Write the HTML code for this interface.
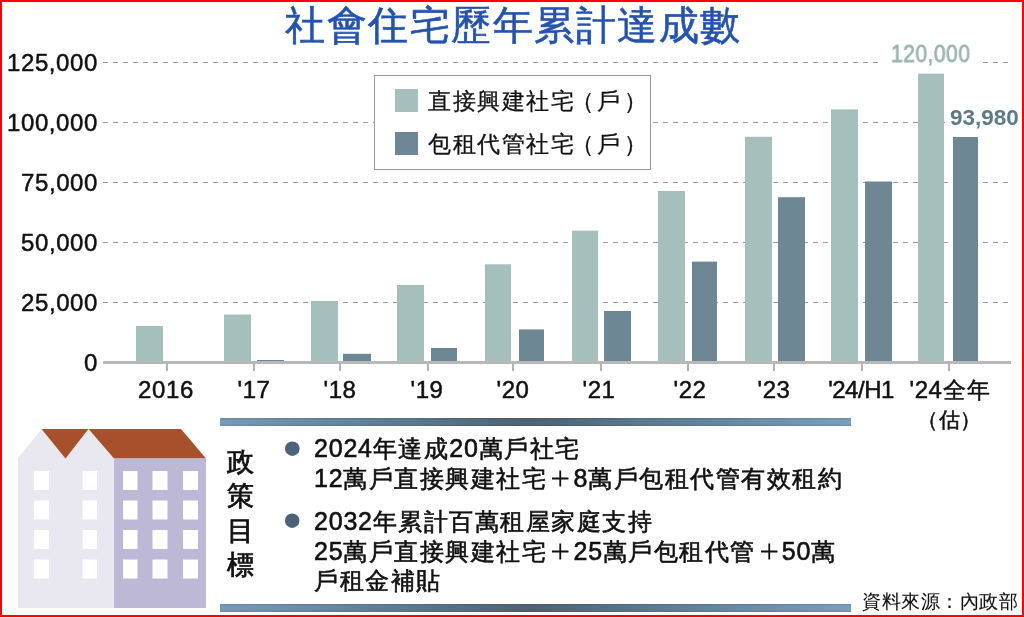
<!DOCTYPE html>
<html lang="zh-Hant-TW">
<head>
<meta charset="utf-8">
<style>
html,body{margin:0;padding:0;background:#fff;}
body{width:1024px;height:617px;position:relative;overflow:hidden;font-family:"Liberation Sans",sans-serif;color:#111;}
.s{-webkit-text-stroke:0.5px currentColor;}
.frame{position:absolute;left:0;top:0;width:1020px;height:613px;border:2px solid #f00;}
.t{position:absolute;white-space:nowrap;line-height:1;}
.yl,.xl,.lg,.pl,.t{will-change:transform;}
#title{left:285px;top:5.5px;font-size:39.5px;color:#2453AE;letter-spacing:1.5px;-webkit-text-stroke:0.6px #2453AE;}
.yl{position:absolute;right:926px;font-size:24px;line-height:24px;letter-spacing:0.6px;white-space:nowrap;-webkit-text-stroke:0.5px #111;}
.xl{position:absolute;font-size:24px;line-height:24px;letter-spacing:0.6px;white-space:nowrap;text-align:center;width:120px;-webkit-text-stroke:0.5px #111;}
.lg{position:absolute;left:428px;font-size:23px;line-height:23px;letter-spacing:1.5px;white-space:nowrap;-webkit-text-stroke:0.3px #111;}
.pl{position:absolute;left:314px;font-size:24px;line-height:24px;letter-spacing:1.5px;white-space:nowrap;-webkit-text-stroke:0.6px #111;}
.pl .d{letter-spacing:0.8px;font-size:25px;}
.plus{vertical-align:-1px;margin-right:1px;}
</style>
</head>
<body>
<svg width="1024" height="617" style="position:absolute;left:0;top:0">
  <g stroke="#999" stroke-width="1" stroke-dasharray="5 5">
    <line x1="103" y1="62.5" x2="1010" y2="62.5"/>
    <line x1="103" y1="122.5" x2="1010" y2="122.5"/>
    <line x1="103" y1="182.5" x2="1010" y2="182.5"/>
    <line x1="103" y1="242.5" x2="1010" y2="242.5"/>
    <line x1="103" y1="302.5" x2="1010" y2="302.5"/>
  </g>
  <rect x="103" y="361" width="908" height="3" fill="#b8b8b8"/>
  <g fill="#b4b4b4">
    <rect x="166" y="363" width="2" height="8"/>
    <rect x="253" y="363" width="2" height="8"/>
    <rect x="339" y="363" width="2" height="8"/>
    <rect x="427" y="363" width="2" height="8"/>
    <rect x="512" y="363" width="2" height="8"/>
    <rect x="600" y="363" width="2" height="8"/>
    <rect x="687" y="363" width="2" height="8"/>
    <rect x="773" y="363" width="2" height="8"/>
    <rect x="861" y="363" width="2" height="8"/>
    <rect x="948" y="363" width="2" height="8"/>
  </g>
  <g fill="#A5BFBC">
    <rect x="136" y="326" width="27" height="35"/>
    <rect x="224" y="314.5" width="27" height="46.5"/>
    <rect x="311" y="301" width="27" height="60"/>
    <rect x="397" y="285" width="27" height="76"/>
    <rect x="485" y="264.3" width="26" height="96.7"/>
    <rect x="572" y="230.7" width="26" height="130.3"/>
    <rect x="658" y="191" width="27" height="170"/>
    <rect x="745" y="136.8" width="27" height="224.2"/>
    <rect x="831" y="109.4" width="27" height="251.6"/>
    <rect x="918" y="73.7" width="26" height="287.3"/>
  </g>
  <g fill="#6D8894">
    <rect x="257" y="360" width="27" height="1"/>
    <rect x="343" y="353.8" width="28" height="7.2"/>
    <rect x="431" y="348" width="26" height="13"/>
    <rect x="519" y="329.4" width="25" height="31.6"/>
    <rect x="604" y="311" width="27" height="50"/>
    <rect x="692" y="261.6" width="25" height="99.4"/>
    <rect x="778" y="197.2" width="27" height="163.8"/>
    <rect x="865" y="181.5" width="27" height="179.5"/>
    <rect x="953" y="137" width="25" height="224"/>
  </g>
  <!-- legend -->
  <rect x="374.5" y="75.5" width="276" height="94" fill="#fff" stroke="#9a9a9a" stroke-width="1"/>
  <rect x="395" y="89" width="23" height="23" fill="#A5BFBC"/>
  <rect x="395" y="132" width="23" height="23" fill="#6D8894"/>
  <!-- label backgrounds -->
  <rect x="880" y="44" width="102" height="22" fill="#fff"/>
  <rect x="945" y="108" width="76" height="22" fill="#fff"/>
  <!-- gradient bars -->
  <defs>
    <linearGradient id="gb" x1="0" x2="1" y1="0" y2="0">
      <stop offset="0" stop-color="#769BBA"/>
      <stop offset="0.49" stop-color="#4D6274"/>
      <stop offset="1" stop-color="#78A0BF"/>
    </linearGradient>
    <linearGradient id="gv" x1="0" x2="0" y1="0" y2="1">
      <stop offset="0" stop-color="#000" stop-opacity="0.10"/>
      <stop offset="0.3" stop-color="#000" stop-opacity="0"/>
      <stop offset="0.7" stop-color="#000" stop-opacity="0"/>
      <stop offset="1" stop-color="#000" stop-opacity="0.10"/>
    </linearGradient>
  </defs>
  <rect x="220" y="418" width="631" height="8" fill="url(#gb)"/>
  <rect x="220" y="604" width="631" height="8" fill="url(#gb)"/>
  <rect x="220" y="418" width="631" height="8" fill="url(#gv)"/>
  <rect x="220" y="604" width="631" height="8" fill="url(#gv)"/>
  <!-- building -->
  <polygon points="18,458 41.5,429.5 65.5,458.5 88.5,429.5 114,458.5 114,608 18,608" fill="#E9E7F0"/>
  <polygon points="41.5,429 88.5,429 65.5,458.5" fill="#A84F2C"/>
  <polygon points="88.5,429 181,429 206,458.5 114,458.5" fill="#A84F2C"/>
  <rect x="114" y="458.5" width="92" height="149.5" fill="#BDB8D5"/>
  <g fill="#fff">
    <rect x="34" y="471" width="15" height="19"/><rect x="82.5" y="471" width="14.5" height="19"/>
    <rect x="34" y="500.5" width="15" height="19"/><rect x="82.5" y="500.5" width="14.5" height="19"/>
    <rect x="34" y="530" width="15" height="19"/><rect x="82.5" y="530" width="14.5" height="19"/>
    <rect x="34" y="559.5" width="15" height="19"/><rect x="82.5" y="559.5" width="14.5" height="19"/>
    <rect x="123" y="471" width="14.5" height="19"/><rect x="152.5" y="471" width="15" height="19"/><rect x="183" y="471" width="15" height="19"/>
    <rect x="123" y="500.5" width="14.5" height="19"/><rect x="152.5" y="500.5" width="15" height="19"/><rect x="183" y="500.5" width="15" height="19"/>
    <rect x="123" y="530" width="14.5" height="19"/><rect x="152.5" y="530" width="15" height="19"/><rect x="183" y="530" width="15" height="19"/>
    <rect x="123" y="559.5" width="14.5" height="19"/><rect x="152.5" y="559.5" width="15" height="19"/><rect x="183" y="559.5" width="15" height="19"/>
  </g>
  <circle cx="292.3" cy="448.7" r="7.3" fill="#4B6279"/>
  <circle cx="292.2" cy="520.7" r="7.2" fill="#4B6279"/>
</svg>

<div class="frame"></div>
<div class="t" id="title">社會住宅歷年累計達成數</div>

<div class="yl" style="top:51px">125,000</div>
<div class="yl" style="top:111px">100,000</div>
<div class="yl" style="top:171px">75,000</div>
<div class="yl" style="top:231px">50,000</div>
<div class="yl" style="top:291px">25,000</div>
<div class="yl" style="top:351px">0</div>

<div class="xl" style="left:106.3px;top:378px">2016</div>
<div class="xl" style="left:194px;top:378px">'17</div>
<div class="xl" style="left:279.7px;top:378px">'18</div>
<div class="xl" style="left:367px;top:378px">'19</div>
<div class="xl" style="left:453.3px;top:378px">'20</div>
<div class="xl" style="left:539px;top:378px">'21</div>
<div class="xl" style="left:629.5px;top:378px">'22</div>
<div class="xl" style="left:714px;top:378px">'23</div>
<div class="xl" style="left:801px;top:378px;letter-spacing:-0.5px">'24/H1</div>
<div class="xl" style="left:890.3px;top:378px">'24<span style="font-size:23px;letter-spacing:1px">全年</span></div>
<div class="xl" style="left:888.7px;top:408px;font-size:21px;letter-spacing:0"><span style="position:relative;left:-1px">（</span>估）</div>

<div class="lg" style="top:90px">直接興建社宅<span style="position:relative;left:-4px">（</span><span style="position:relative;left:-3px">戶</span>）</div>
<div class="lg" style="top:133px">包租代管社宅<span style="position:relative;left:-4px">（</span><span style="position:relative;left:-3px">戶</span>）</div>

<div class="t" style="left:890.5px;top:41.5px;font-size:24px;color:#9BB5B3;letter-spacing:0.5px;-webkit-text-stroke:0.8px #9BB5B3;transform:scaleX(0.88);transform-origin:0 0">120,000</div>
<div class="t" style="left:950px;top:107px;font-size:22.5px;color:#5E7A89;font-weight:bold;letter-spacing:0px">93,980</div>

<div class="t" style="left:227px;top:445px;font-size:27px;line-height:34.3px;white-space:normal;width:30px;-webkit-text-stroke:0.8px #111">政策目標</div>

<div class="pl" style="top:436px"><span class="d">2024</span>年達成<span class="d">20</span>萬戶社宅</div>
<div class="pl" style="top:466px"><span class="d">12</span>萬戶直接興建社宅<svg class="plus" width="25" height="20" viewBox="0 0 25 20"><path d="M5 10.5h16.5M13.25 2.5v16" stroke="#111" stroke-width="1.8" fill="none"/></svg><span class="d">8</span>萬戶包租代管有效租約</div>
<div class="pl" style="top:509px"><span class="d">2032</span>年累計百萬租屋家庭支持</div>
<div class="pl" style="top:539px"><span class="d">25</span>萬戶直接興建社宅<svg class="plus" width="25" height="20" viewBox="0 0 25 20"><path d="M5 10.5h16.5M13.25 2.5v16" stroke="#111" stroke-width="1.8" fill="none"/></svg><span class="d">25</span>萬戶包租代管<svg class="plus" width="25" height="20" viewBox="0 0 25 20"><path d="M5 10.5h16.5M13.25 2.5v16" stroke="#111" stroke-width="1.8" fill="none"/></svg><span class="d">50</span>萬</div>
<div class="pl" style="top:569px">戶租金補貼</div>

<div class="t" style="left:861.5px;top:592px;font-size:19px;letter-spacing:0.5px;-webkit-text-stroke:0.1px #111">資料來源：內政部</div>
</body>
</html>
